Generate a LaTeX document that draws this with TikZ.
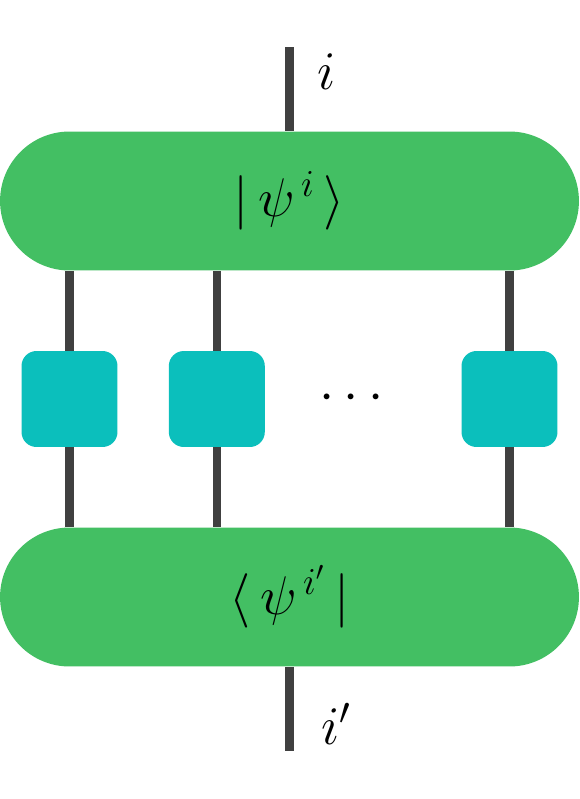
\RequirePackage{fix-cm}
\documentclass[tikz,border=0pt]{standalone}
\usetikzlibrary{positioning, backgrounds}
\usepackage{amsmath, amssymb}
\usepackage{xcolor}
\definecolor{mpsgreen}{HTML}{43BF63}
\definecolor{optteal}{HTML}{0BBFBC}
\definecolor{legdark}{HTML}{404040}

\begin{document}
\begin{tikzpicture}[
      x=0.02cm, y=-0.02cm,
      every node/.style={font=\fontsize{31}{37}\selectfont},
      state/.style={fill=mpsgreen, rounded corners=1.39cm, minimum width=11.58cm, minimum height=2.78cm, inner sep=0pt},
      opbox/.style={fill=optteal, rounded corners=0.3cm, minimum size=1.92cm, inner sep=0pt},
      leg/.style={draw=legdark, line width=4.6pt},
    ]
    \useasboundingbox (0,0) rectangle (579,799);

    \node[state] (ket) at (289.5, 201) {$|\,\psi^{\,i}\,\rangle$};
    \node[state] (bra) at (289.5, 597) {$\langle\,\psi^{\,i'}\,|$};

    \node[opbox] (op1) at (69.5, 399) {};
    \node[opbox] (op2) at (216.8, 399) {};
    \node[opbox] (op3) at (509.5, 399) {};
    \node (dots) at (356, 398) {$\cdots$};

    \coordinate (itop) at (289.5, 47);
    \coordinate (ibot) at (289.5, 751);
    \node (ilab) at (327, 72) {$i$};
    \node (iplab) at (336, 724) {$i'$};

    \begin{scope}[on background layer]
      \draw[leg] (itop) -- (ket);
      \draw[leg] (bra) -- (ibot);
      \foreach \k in {op1, op2, op3}
        \draw[leg] (ket.south -| \k) -- (bra.north -| \k);
    \end{scope}
  \end{tikzpicture}
\end{document}
